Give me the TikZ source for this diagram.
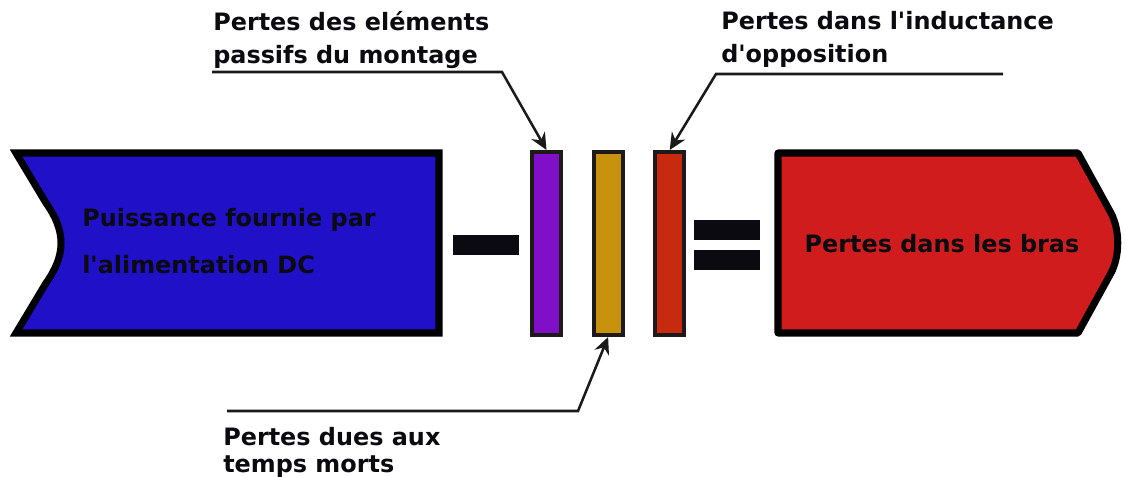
\documentclass[tikz,border=0pt]{standalone}
\usepackage{fontspec}
\setmainfont{DejaVu Sans}
\usepackage{tikz}
\usetikzlibrary{arrows.meta}

\definecolor{bleu}{RGB}{32,16,200}
\definecolor{rouge}{RGB}{208,28,28}
\definecolor{violet}{RGB}{128,16,200}
\definecolor{orange}{RGB}{200,145,14}
\definecolor{brique}{RGB}{200,42,16}
\definecolor{bord}{RGB}{30,26,26}
\definecolor{signe}{RGB}{10,10,16}
\definecolor{ligne}{RGB}{26,26,26}

\begin{document}
\begin{tikzpicture}[x=0.025cm, y=-0.025cm, node distance=1.54cm,
  bar/.style={rectangle, draw=bord, line width=2.8pt, minimum width=0.725cm, minimum height=4.575cm, inner sep=0},
  sign/.style={rectangle, fill=signe, minimum width=1.65cm, minimum height=0.49cm, inner sep=0},
  lbl/.style={font=\bfseries\fontsize{17}{22.8}\selectfont, align=left, inner sep=0, anchor=base west, text=signe},
  fleche/.style={draw=ligne, line width=1.8pt, -{Stealth[length=12pt,width=11pt,inset=4pt]}}]
        \useasboundingbox (0,0) rectangle (1126,476);
        % puissance d'entree
        \draw[fill=bleu, draw=black, line width=5pt, line join=miter] (16,153) -- (439,153) -- (439,333) -- (16,333)
            -- (46,283) .. controls (66,255) and (66,231) .. (46,203) -- cycle;
        \node[lbl, font=\bfseries\fontsize{17}{33.4}\selectfont] (in) at (82,273) {Puissance fournie par\\l\textquotesingle alimentation DC};
        % pertes en sortie
        \draw[fill=rouge, draw=black, line width=5pt, line join=round] (778,153) -- (1078,153) -- (1111,213)
            .. controls (1120,230) and (1120,256) .. (1111,273) -- (1078,333) -- (778,333) -- cycle;
        \node[lbl, anchor=base] (out) at (942,252) {Pertes dans les bras};
        % signes
        \node[sign] (moins) at (486,245) {};
        \node[sign] (eg1) at (727,230) {};
        \node[sign] (eg2) at (727,260) {};
        % pertes
        \node[bar, fill=violet] (b1) at (546.5,243.5) {};
        \node[bar, fill=orange] (b2) [right of=b1] {};
        \node[bar, fill=brique] (b3) [right of=b2] {};
        % etiquettes
        \node[lbl] (l1) at (213,63) {Pertes des eléments\\passifs du montage};
        \node[lbl] (l3) at (721,62) {Pertes dans l\textquotesingle inductance\\d\textquotesingle opposition};
        \node[lbl, font=\bfseries\fontsize{17}{19.2}\selectfont] (l2) at (223,472) {Pertes dues aux\\temps morts};
        \coordinate (a1) at (212,72);
        \coordinate (c1) at (502,72);
        \coordinate (a3) at (1003,74);
        \coordinate (c3) at (716,74);
        \coordinate (a2) at (227,411);
        \coordinate (c2) at (578,411);
        \draw[fleche] (a1) -- (c1) -- (b1.north);
        \draw[fleche] (a3) -- (c3) -- (b3.north);
        \draw[fleche] (a2) -- (c2) -- (b2.south);
    \end{tikzpicture}
\end{document}
